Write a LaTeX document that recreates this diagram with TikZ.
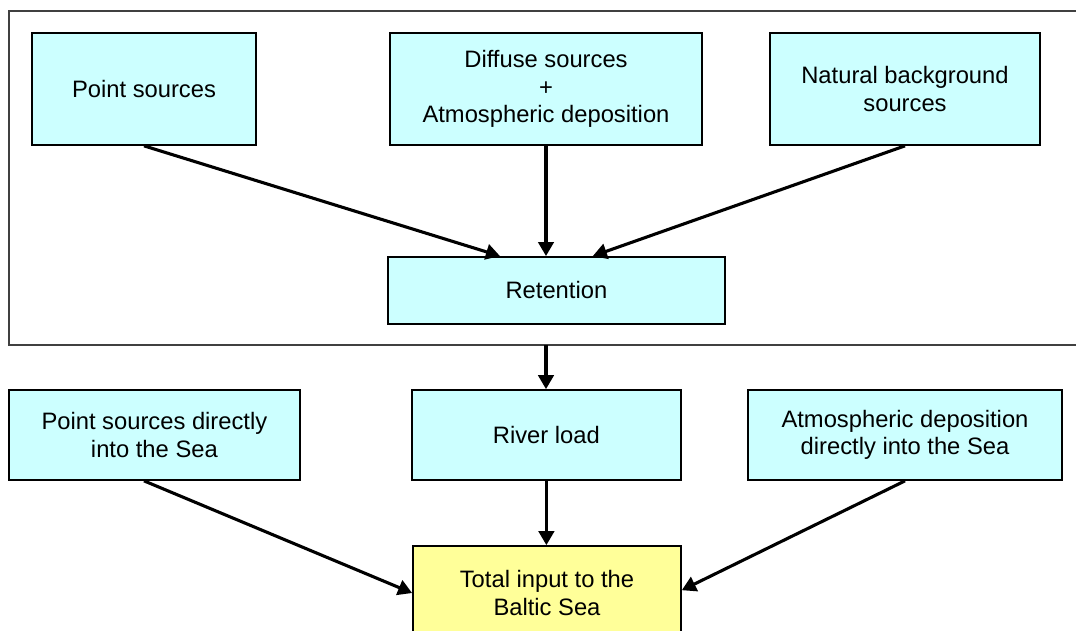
\documentclass[tikz,border=0pt]{standalone}
\usepackage{fontspec}
\setmainfont{Liberation Sans}
\usepackage{tikz}
\usetikzlibrary{arrows.meta, calc}
\definecolor{boxcyan}{HTML}{CCFFFF}
\definecolor{boxyellow}{HTML}{FFFF99}

\begin{document}
\begin{tikzpicture}[
  every node/.style={draw,line width=1.2pt,align=center,inner sep=0pt,
    font=\fontsize{16.9}{19.6}\selectfont},
  src/.style={fill=boxcyan},
  arr/.style={line width=2.2pt,-{Triangle[length=10pt,width=11pt]}}
]
  \clip (0,0) rectangle (26.9,-15.75);
  \useasboundingbox (0,0) rectangle (26.9,-15.75);

  % frame round the land part
  \draw[black!75,line width=1.3pt] (27.2,-0.275) -- (0.225,-0.275) -- (0.225,-8.625) -- (27.2,-8.625);
  \coordinate (fb) at (13.65,-8.625);

  % sources on land
  \node[src,minimum width=5.6cm,minimum height=2.8cm] (ps) at (3.6,-2.225) {Point sources};
  \node[src,minimum width=7.8cm,minimum height=2.8cm] (ds) at (13.65,-2.225) {Diffuse sources\\+\\Atmospheric deposition};
  \node[src,minimum width=6.75cm,minimum height=2.8cm] (nb) at (22.625,-2.225) {Natural background\\sources};
  \node[src,minimum width=8.425cm,minimum height=1.675cm] (ret) at (13.91,-7.26) {Retention};

  % loads into the sea
  \node[src,minimum width=7.275cm,minimum height=2.25cm] (pd) at (3.86,-10.875) {Point sources directly\\into the Sea};
  \node[src,minimum width=6.725cm,minimum height=2.25cm] (rl) at (13.66,-10.875) {River load};
  \node[src,minimum width=7.85cm,minimum height=2.25cm] (ad) at (22.625,-10.875) {Atmospheric deposition\\directly into the Sea};
  \node[fill=boxyellow,minimum width=6.7cm,minimum height=2.35cm] (tot) at (13.675,-14.825) {Total input to the\\Baltic Sea};

  \draw[arr] (ps.south) -- ($(ret.north)+(-1.41,0)$);
  \draw[arr] (ds.south) -- (ds.south |- ret.north);
  \draw[arr] (nb.south) -- ($(ret.north)+(0.91,0)$);
  \draw[arr] (fb) -- (fb |- rl.north);

  \draw[arr] ($(pd.south)+(-0.26,0)$) -- (tot.west);
  \draw[arr] (rl.south) -- (rl.south |- tot.north);
  \draw[arr] (ad.south) -- ($(tot.east)+(0,0.07)$);
\end{tikzpicture}
\end{document}
